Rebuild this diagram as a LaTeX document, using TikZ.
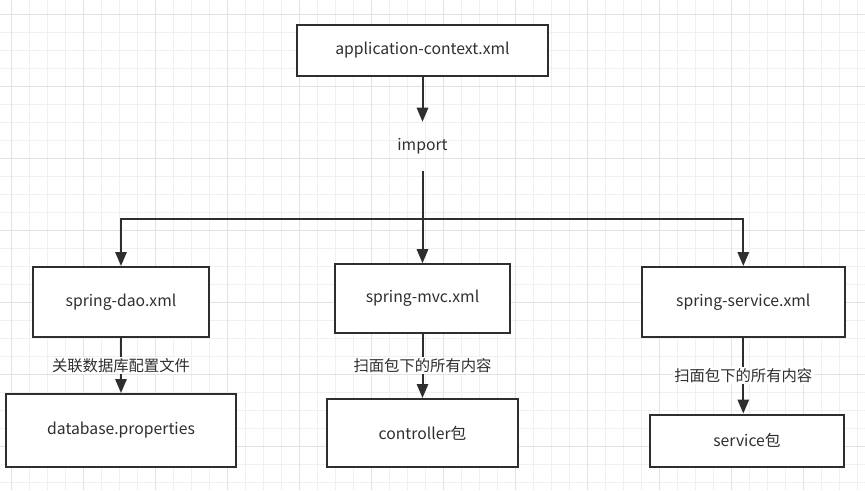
\documentclass[tikz,border=0pt]{standalone}
\usepackage{fontspec}
\setmainfont{Noto Sans CJK SC}
\usetikzlibrary{arrows.meta}
\definecolor{ink}{HTML}{2E2E2E}
\definecolor{txt}{HTML}{2F2F2F}
\definecolor{gminor}{HTML}{F0F0F0}
\definecolor{gmajor}{HTML}{E2E2E2}
\begin{document}
\begin{tikzpicture}[x=0.75pt,y=-0.75pt,
  box/.style={draw=ink,line width=1.5pt,fill=white,inner sep=0pt,text=txt,font=\fontsize{11.8}{13}\selectfont},
  plain/.style={inner sep=0pt,text=txt,font=\fontsize{11.8}{13}\selectfont},
  conn/.style={draw=ink,line width=1.5pt},
  arr/.style={conn,-{Triangle[length=10.5pt,width=8.5pt]}},
  lbl/.style={fill=white,inner sep=1pt,text=txt,font=\fontsize{11.5}{13}\selectfont}]
\fill[white] (0,0) rectangle (865,490);
\useasboundingbox (0,0) rectangle (865,490);
% grid
\foreach \i in {0,...,47} {\draw[gminor,line width=0.75pt] (11.5+18*\i,0) -- (11.5+18*\i,490);}
\foreach \i in {0,...,26} {\draw[gminor,line width=0.75pt] (0,14.5+18*\i) -- (865,14.5+18*\i);}
\foreach \i in {0,...,11} {\draw[gmajor,line width=0.75pt] (11.5+72*\i,0) -- (11.5+72*\i,490);}
\foreach \i in {0,...,6} {\draw[gmajor,line width=0.75pt] (0,14.5+72*\i) -- (865,14.5+72*\i);}
% nodes
\node[box,minimum width=188.25pt,minimum height=38.25pt] (app) at (422.5,50.5) {application-context.xml};
\node[plain,minimum height=36.75pt] (imp) at (422.5,146.5) {import};
\coordinate (jn) at (422.5,219);
\node[box,minimum width=132pt,minimum height=52.5pt] (dao) at (121,302) {spring-dao.xml};
\node[box,minimum width=131.25pt,minimum height=51.4pt] (mvc) at (422.5,298.5) {spring-mvc.xml};
\node[box,minimum width=152.25pt,minimum height=52.5pt] (svc) at (743.3,302) {spring-service.xml};
\node[box,minimum width=172.5pt,minimum height=54.75pt] (db) at (121,430.5) {database.properties};
\node[box,minimum width=143.6pt,minimum height=51pt] (ctl) at (422.5,433) {controller包};
\node[box,minimum width=145.5pt,minimum height=39pt] (spk) at (747,440.5) {service包};
% connectors
\draw[arr] (app.south) -- (imp.north);
\draw[conn] (imp.south) -- (jn);
\draw[arr] (jn) -| (dao.north);
\draw[arr] (jn) -| (svc.north);
\draw[arr] (jn) -- (mvc.north);
\draw[arr] (dao.south) -- node[lbl]{关联数据库配置文件} (db.north);
\draw[arr] (mvc.south) -- node[lbl]{扫面包下的所有内容} (ctl.north);
\draw[arr] (svc.south) -- node[lbl]{扫面包下的所有内容} (svc.south |- spk.north);
\end{tikzpicture}
\end{document}
